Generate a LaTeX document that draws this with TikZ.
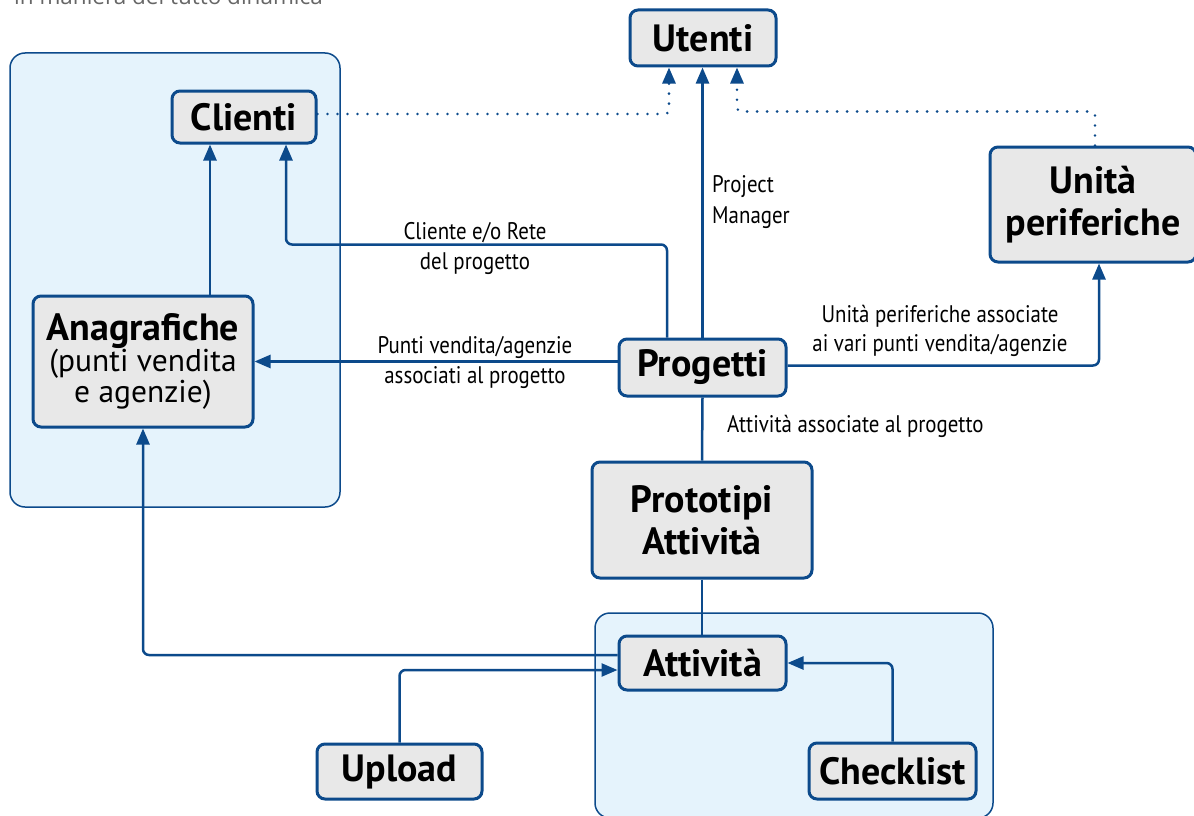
\documentclass[tikz,border=0pt]{standalone}
\usepackage{fontspec}
\setmainfont{PT Sans}
\newfontfamily\lblfont[FakeStretch=0.87]{PT Sans}
\newfontfamily\topfont{Open Sans}
\usetikzlibrary{arrows.meta,calc}
\definecolor{myblue}{HTML}{0C4A8B}
\definecolor{boxfill}{HTML}{E8E8E8}
\definecolor{contfill}{HTML}{E5F3FC}
\tikzset{
  cont/.style={draw=myblue, line width=1.5pt, fill=contfill, rounded corners=15pt},
  box/.style={draw=myblue, line width=3pt, fill=boxfill, rounded corners=8pt, inner sep=0pt,
    font=\bfseries\fontsize{38}{42}\selectfont, align=center, text=black},
  conn/.style={myblue, line width=2.5pt, rounded corners=6pt},
  arr/.style={conn, -{Triangle[length=16pt,width=13pt]}},
  dotarr/.style={myblue, line width=2.8pt, dash pattern=on 0pt off 10pt, line cap=round,
    rounded corners=4pt, -{Triangle[length=16pt,width=13pt]}},
  lbl/.style={font=\lblfont\fontsize{24}{30}\selectfont, align=center, inner sep=0pt, text=black}
}
\begin{document}
\begin{tikzpicture}[x=1pt,y=-1pt]
\useasboundingbox (0,0) rectangle (1194,816);
% containers
\draw[cont] (10,53) rectangle (340,507);
\draw[cont] (595,613) rectangle (993,818);
% top cut text
\node[anchor=base west, inner sep=0pt, font=\topfont\fontsize{22.5}{26}\selectfont, text=black!60] (toptxt) at (14,5) {in maniera del tutto dinamica};
% nodes
\node[box, minimum width=146pt, minimum height=56pt] (ut) at (703,38) {Utenti};
\node[box, minimum width=144pt, minimum height=52pt] (cl) at (244,117) {Clienti};
\node[box, minimum width=206pt, minimum height=115pt] (un) at (1093,204.5) {Unità\\periferiche};
\node[box, minimum width=220pt, minimum height=131pt, font=\fontsize{31.5}{31}\selectfont] (an) at (143,361.5) {{\bfseries\fontsize{38}{31}\selectfont Anagrafiche}\\(punti vendita\\e agenzie)};
\node[box, minimum width=167pt, minimum height=57pt] (prog) at (702.5,367.5) {Progetti};
\node[box, minimum width=220pt, minimum height=116pt] (proto) at (702,520) {Prototipi\\Attività};
\node[box, minimum width=167pt, minimum height=54pt] (att) at (702.5,663) {Attività};
\node[box, minimum width=165pt, minimum height=55pt] (up) at (399.5,771.5) {Upload};
\node[box, minimum width=167pt, minimum height=56pt] (ck) at (892.5,771) {Checklist};
% labels
\node[lbl] (l1) at (475,248) {Cliente e/o Rete\\del progetto};
\node[lbl] (l2) at (475,362) {Punti vendita/agenzie\\associati al progetto};
\node[lbl, font=\lblfont\fontsize{24}{29}\selectfont] (l3) at (940,331) {Unità periferiche associate\\ai vari punti vendita/agenzie};
\node[lbl, anchor=west, align=left, font=\lblfont\fontsize{24}{31}\selectfont] (l4) at (712,202) {Project\\Manager};
\node[lbl, anchor=west] (l5) at (727,426) {Attività associate al progetto};
% connectors
\coordinate (a1) at ($(cl.south)+(-34,0)$);
\coordinate (dl) at ($(ut.south)+(-34,0)$);
\coordinate (dr) at ($(ut.south)+(34,0)$);
\draw[dotarr] ($(cl.east)+(0,-3)$) -| (dl);
\draw[dotarr] ($(un.north)+(2,0)$) -- ++(0,-34) -| (dr);
\draw[arr] (prog.north) -- (prog.north |- ut.south);
\draw[arr] ($(prog.north)+(-35.5,0)$) -- ++(0,-93) -| ($(cl.south)+(42,0)$);
\draw[arr] (prog.west |- an.east) -- (an.east);
\draw[arr] ($(prog.east)+(0,-2)$) -| ($(un.south)+(6,0)$);
\draw[conn] (prog.south) -- (proto.north);
\draw[conn] (proto.south) -- (proto.south |- att.north);
\draw[arr] (a1 |- an.north) -- (a1);
\draw[arr] ($(att.west)+(0,-8)$) -| (an.south);
\draw[arr] (up.north) |- ($(att.west)+(0,7)$);
\draw[arr] (ck.north) |- (att.east);
\end{tikzpicture}
\end{document}
